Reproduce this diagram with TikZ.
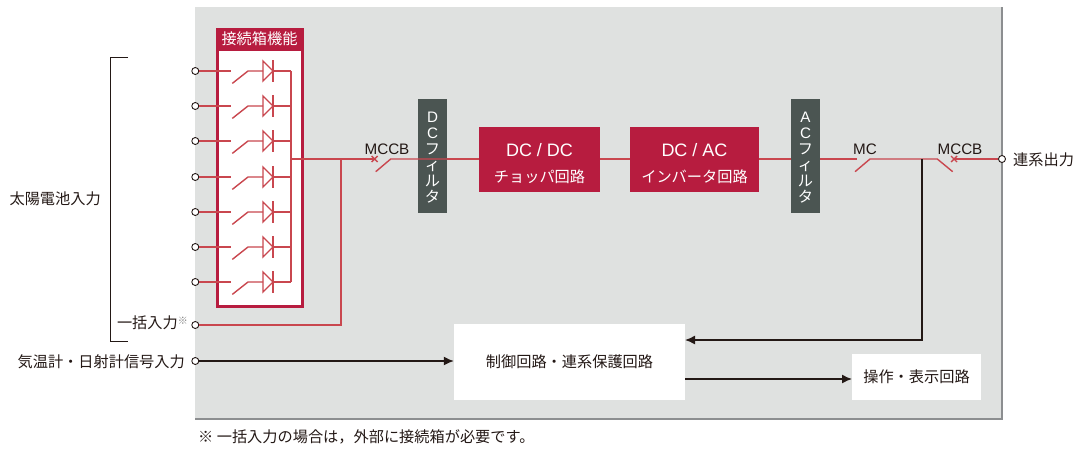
\documentclass[tikz,border=0pt]{standalone}
\usepackage{fontspec}
\setmainfont{Noto Sans CJK JP}
\newfontfamily\latinfont{Liberation Sans}
\usetikzlibrary{calc,arrows.meta}

\lineskiplimit=-20pt
\normallineskiplimit=-20pt

\definecolor{panelgray}{HTML}{DFE1E0}
\definecolor{paneledge}{HTML}{8C8E90}
\definecolor{blockred}{HTML}{B71C3F}
\definecolor{wirered}{HTML}{C9474F}
\definecolor{filtergray}{HTML}{4B5552}
\definecolor{inktext}{HTML}{231815}

\tikzset{
	wire/.style={wirered,line width=1.4pt},
	signal/.style={inktext,line width=1.4pt},
	sigarrow/.style={signal,-{Latex[length=10pt,width=9pt]}},
	terminal/.style={circle,draw=inktext,fill=white,line width=.9pt,minimum size=7pt,inner sep=0pt},
	label/.style={inner sep=0pt,text=inktext,font=\fontsize{15.2}{17}\selectfont},
	redblock/.style={fill=blockred,text=white,inner sep=0pt,align=center,
		font=\fontsize{15.2}{26}\selectfont},
	filterblock/.style={fill=filtergray,text=white,inner sep=0pt,align=center,
		minimum width=29pt,minimum height=114pt,
		font=\fontsize{15.2}{15.9}\selectfont},
	whiteblock/.style={fill=white,text=inktext,inner sep=0pt,font=\fontsize{15.2}{17}\selectfont},
}

\begin{document}
\begin{tikzpicture}[x=1pt,y=-1pt]
	\useasboundingbox (0,0) rectangle (1074,450);

	% panel
	\fill[panelgray] (195,7) rectangle (1002,419);
	\draw[paneledge,line width=1.5pt] (1002,7)--(1002,419)--(195,419);

	% junction box
	\node[draw=blockred,fill=white,line width=3pt,minimum width=85pt,minimum height=277pt,inner sep=0pt]
		(junction) at (259.5,168) {};
	\node[fill=blockred,text=white,minimum width=87pt,minimum height=23pt,inner sep=0pt,
		font=\fontsize{15.2}{17}\selectfont] (junctionhead) at (259.5,39) {接続箱機能};

	\coordinate (bustop) at (291,71);
	\coordinate (busout) at (291,159);
	\coordinate (busend) at (291,282);
	\coordinate (tee) at (341,159);

	% input strings
	\foreach \n/\y in {1/71,2/106,3/141,4/177,5/212,6/247,7/282} {
		\node[terminal] (in\n) at (195.3,\y) {};
		\coordinate (open\n) at (231,\y);
		\coordinate (hinge\n) at (248,\y);
		\coordinate (blade\n) at (232.3,\y+12.4);
		\coordinate (anode\n) at (263,\y);
		\coordinate (cathode\n) at (273,\y);
		\coordinate (bus\n) at (291,\y);
		\draw[wire] (in\n)--(open\n);
		\draw[wire] (blade\n)--(hinge\n)--(anode\n);
		\draw[wire] (anode\n)--++(0,-10)--(cathode\n)--($(anode\n)+(0,10)$)--cycle;
		\draw[wire] ($(cathode\n)+(0,-11)$)--($(cathode\n)+(0,11)$);
		\draw[wire] (cathode\n)--(bus\n);
	}
	\draw[wire] (bustop)--(busend);

	% blocks
	\node[filterblock] (dcfilter) at (432.5,156) {\rule{0pt}{14pt}{\latinfont D}\\{\latinfont C}\\フ\\ィ\\ル\\タ};
	\node[redblock,minimum width=121pt,minimum height=65pt] (dcdc) at (539.5,159)
		{\rule{0pt}{23pt}{\latinfont\fontsize{18}{26}\selectfont DC / DC}\\チョッパ回路};
	\node[redblock,minimum width=129pt,minimum height=65pt] (dcac) at (694.5,159)
		{\rule{0pt}{23pt}{\latinfont\fontsize{18}{26}\selectfont DC / AC}\\インバータ回路};
	\node[filterblock] (acfilter) at (805.5,156) {\rule{0pt}{14pt}{\latinfont A}\\{\latinfont C}\\フ\\ィ\\ル\\タ};
	\node[whiteblock,minimum width=231pt,minimum height=76pt] (control) at (569.5,362)
		{\raisebox{-2pt}{制御回路・連系保護回路}};
	\node[whiteblock,minimum width=129pt,minimum height=46pt] (display) at (916.5,377)
		{\raisebox{-1pt}{操作・表示回路}};

	% main line
	\coordinate (mccbin) at (375.7,171.7);
	\coordinate (mccbhinge) at (390.7,159);
	\coordinate (mcopen) at (856.7,159);
	\coordinate (mcblade) at (855,171.7);
	\coordinate (mchinge) at (870,159);
	\coordinate (branch) at (922,159);
	\coordinate (mccbout) at (937.3,159);
	\coordinate (mccbblade) at (952.7,171.7);
	\coordinate (crossin) at (374.7,159);
	\coordinate (crossout) at (954,159);
	\coordinate (backtip) at (685,340);
	\coordinate (opstart) at (685,379);
	\coordinate (optip) at (852,379);
	\node[terminal] (out) at (1002,159) {};
	\node[terminal] (bulkin) at (195.3,325) {};
	\node[terminal] (sensorin) at (195.3,361) {};

	\draw[wire] (busout)--(crossin);
	\draw[wire] (mccbin)--(mccbhinge)--(dcfilter.east |- mccbhinge);
	\draw[wire] (dcfilter.east |- busout)--(dcdc.west);
	\draw[wire] (dcdc.east)--(dcac.west);
	\draw[wire] (dcac.east)--(acfilter.west |- dcac.east);
	\draw[wire] (acfilter.east |- dcac.east)--(mcopen);
	\draw[wire] (mcblade)--(mchinge)--(mccbout)--(mccbblade);
	\draw[wire] (crossout)--(out);
	\draw[wire] (tee)|-(bulkin);

	% breaker marks
	\foreach \c in {crossin,crossout}
		\draw[wire] ($(\c)+(-3,-3)$)--($(\c)+(3,3)$) ($(\c)+(-3,3)$)--($(\c)+(3,-3)$);

	% signal lines
	\draw[sigarrow] (sensorin)--(control.west |- sensorin);
	\draw[sigarrow] (branch)|-(backtip);
	\draw[sigarrow] (opstart)--(optip);

	% bracket
	\coordinate (brtop) at (128,57);
	\coordinate (brbottom) at (128,341);
	\draw[inktext,line width=.7pt] (brtop)-|(110,341)--(brbottom);

	% labels
	\node[label,anchor=east] (solar) at (101,199) {太陽電池入力};
	\node[label,anchor=east] (bulk) at (188,323) {一括入力\raisebox{4pt}{\fontsize{10}{10}\selectfont\color{gray}※}};
	\node[label,anchor=east] (sensor) at (185,362) {気温計・日射計信号入力};
	\node[label,anchor=west] (grid) at (1013,160) {連系出力};
	\node[label] (mccbleft) at (387,149) {\latinfont MCCB};
	\node[label] (mclabel) at (865,149) {\latinfont MC};
	\node[label] (mccbright) at (960,149) {\latinfont MCCB};
	\node[label,anchor=west] (note) at (198,437) {※ 一括入力の場合は，外部に接続箱が必要です。};
\end{tikzpicture}
\end{document}
